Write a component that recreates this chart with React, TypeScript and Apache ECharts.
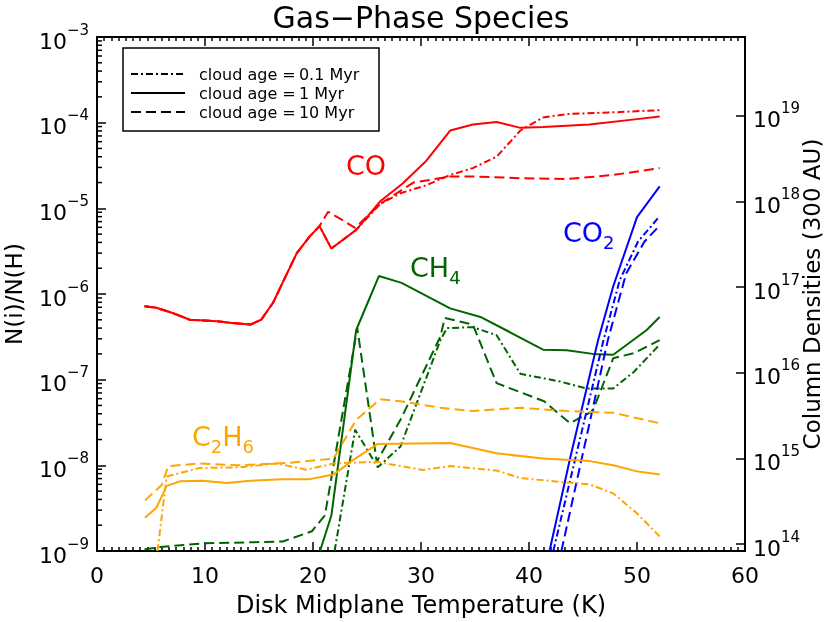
import React, { useEffect, useRef } from 'react';
import * as echarts from 'echarts';

const FONT = 'DejaVu Sans';

// ---------- data (temperature in K, abundance N(i)/N(H)) ----------
const coLowT = [4.4, 5.5, 7.0, 8.6, 10.0, 11.1, 12.5, 14.2, 15.2, 16.3, 17.6, 18.5, 19.7, 20.6];
const coLowV = [7.2e-7, 6.9e-7, 6.0e-7, 5.0e-7, 4.9e-7, 4.8e-7, 4.6e-7, 4.4e-7, 5.0e-7, 7.9e-7, 1.74e-6, 3.0e-6, 4.7e-6, 6.2e-6];

const coSolidT = [21.7, 24.0, 26.2, 28.3, 30.5, 32.7, 34.8, 37.0, 39.2, 41.3, 45.6, 50.0, 52.1];
const coSolidV = [3.4e-6, 5.6e-6, 1.2e-5, 1.95e-5, 3.6e-5, 8.1e-5, 9.5e-5, 1.02e-4, 8.7e-5, 8.9e-5, 9.5e-5, 1.1e-4, 1.18e-4];
const coDashDotT = [21.7, 24.0, 26.2, 28.1, 30.5, 32.7, 34.8, 37.0, 39.2, 41.3, 43.5, 47.8, 52.1];
const coDashDotV = [3.4e-6, 5.6e-6, 1.12e-5, 1.5e-5, 1.86e-5, 2.45e-5, 2.95e-5, 4.0e-5, 8.1e-5, 1.15e-4, 1.26e-4, 1.32e-4, 1.4e-4];
const coDashedT = [21.4, 22.8, 23.9, 26.2, 28.1, 29.3, 32.7, 34.8, 39.2, 43.5, 47.8, 52.1];
const coDashedV = [9.1e-6, 7.2e-6, 5.9e-6, 1.12e-5, 1.6e-5, 2.0e-5, 2.35e-5, 2.35e-5, 2.25e-5, 2.2e-5, 2.45e-5, 2.95e-5];

const ch4SolidT = [20.65, 21.7, 24.0, 26.1, 28.2, 32.7, 35.5, 38.2, 41.3, 43.5, 45.9, 47.8, 50.9, 52.1];
const ch4SolidV = [1.0e-9, 2.6e-9, 3.8e-7, 1.62e-6, 1.35e-6, 6.8e-7, 5.4e-7, 3.6e-7, 2.24e-7, 2.2e-7, 2.0e-7, 1.95e-7, 3.8e-7, 5.4e-7];
const ch4DashDotT = [22.0, 23.9, 26.0, 28.1, 31.8, 32.4, 34.8, 37.0, 39.2, 42.9, 45.3, 47.8, 49.7, 52.1];
const ch4DashDotV = [1.0e-9, 2.6e-8, 9.5e-9, 1.66e-8, 2.9e-7, 4.0e-7, 4.1e-7, 3.3e-7, 1.17e-7, 9.5e-8, 7.9e-8, 7.9e-8, 1.23e-7, 2.57e-7];
const ch4DashedT = [4.4, 6.1, 10.0, 17.2, 19.9, 21.1, 24.1, 25.9, 28.1, 31.8, 32.2, 34.8, 37.0, 41.4, 43.8, 45.9, 47.8, 49.7, 52.1];
const ch4DashedV = [1.05e-9, 1.12e-9, 1.23e-9, 1.29e-9, 1.7e-9, 2.6e-9, 4.0e-7, 1.1e-8, 3.4e-8, 3.2e-7, 5.25e-7, 4.4e-7, 9.1e-8, 5.6e-8, 3.1e-8, 4.3e-8, 1.78e-7, 2.04e-7, 2.9e-7];

const co2SolidT = [41.9, 43.8, 46.4, 47.8, 50.0, 52.1];
const co2SolidV = [1.0e-9, 1.2e-8, 2.9e-7, 1.23e-6, 7.9e-6, 1.8e-5];
const co2DashDotT = [42.25, 46.9, 48.4, 50.1, 52.1];
const co2DashDotV = [1.0e-9, 2.9e-7, 1.45e-6, 4.1e-6, 8.1e-6];
const co2DashedT = [43.0, 47.3, 49.0, 50.7, 52.1];
const co2DashedV = [1.0e-9, 2.9e-7, 1.74e-6, 4.1e-6, 6.3e-6];

const c2h6SolidT = [4.44, 5.5, 6.45, 7.7, 9.8, 12.0, 14.2, 17.2, 19.7, 21.9, 23.7, 26.0, 32.7, 37.0, 41.3, 45.6, 47.8, 50.0, 52.1];
const c2h6SolidV = [2.45e-9, 3.2e-9, 5.75e-9, 6.5e-9, 6.6e-9, 6.2e-9, 6.6e-9, 6.9e-9, 6.9e-9, 7.8e-9, 1.15e-8, 1.78e-8, 1.82e-8, 1.38e-8, 1.2e-8, 1.12e-8, 1.0e-8, 8.5e-9, 7.8e-9];
const c2h6DashedT = [4.44, 6.0, 6.6, 9.5, 13.2, 17.9, 21.9, 24.0, 26.2, 28.1, 31.8, 34.8, 39.2, 43.5, 47.8, 52.1];
const c2h6DashedV = [3.9e-9, 5.9e-9, 9.8e-9, 1.05e-8, 1.0e-8, 1.07e-8, 1.2e-8, 3.4e-8, 5.9e-8, 5.6e-8, 4.7e-8, 4.3e-8, 4.7e-8, 4.3e-8, 4.1e-8, 3.1e-8];
const c2h6DashDotT = [5.6, 6.45, 9.5, 13.2, 16.6, 19.4, 21.9, 25.9, 30.2, 32.7, 37.0, 39.2, 43.5, 45.6, 47.8, 50.0, 52.1];
const c2h6DashDotV = [1.0e-9, 7.4e-9, 9.3e-9, 9.5e-9, 1.05e-8, 8.9e-9, 1.05e-8, 1.1e-8, 8.8e-9, 9.8e-9, 8.7e-9, 7.1e-9, 6.3e-9, 6.0e-9, 4.7e-9, 2.75e-9, 1.48e-9];

// axis ranges
const xMin = 0;
const xMax = 60;
const xInterval = 10;
const yMin = 1e-9;
const yMax = 1e-3;
const colMin = Math.pow(10, 13.92);
const colMax = Math.pow(10, 19.92);

const legendLabels = ['cloud age =\u20090.1 Myr', 'cloud age =\u20091 Myr', 'cloud age =\u200910 Myr'];

const RED = '#ff0000';
const GREEN = '#006400';
const BLUE = '#0000ff';
const ORANGE = '#ffa500';
const DASHDOT = [7, 3, 2, 3];
const DASHED = [10, 5];

function zip(t: number[], v: number[]) {
  return t.map((x, i) => [x, v[i]]);
}

function mkLine(name: string, color: string, type: any, data: number[][]) {
  return {
    name,
    type: 'line',
    data,
    symbol: 'none',
    clip: true,
    silent: true,
    lineStyle: { color, width: 2, type },
    z: 3,
  };
}

function supLabel(v: number) {
  const e = Math.round(Math.log10(v));
  const s = e < 0 ? '\u2212' + -e : String(e);
  return `{b|10}{s|${s}}`;
}

const labelRich = {
  b: { fontSize: 22, fontFamily: FONT, color: '#000', lineHeight: 30, verticalAlign: 'bottom' },
  s: { fontSize: 15, fontFamily: FONT, color: '#000', lineHeight: 14, verticalAlign: 'top' },
};

export default function App() {
  const ref = useRef<HTMLDivElement>(null);
  useEffect(() => {
    const chart = echarts.init(ref.current!, null, { renderer: 'svg' });

    const minorVals: number[][] = [];
    for (let e = -9; e < -3; e++) {
      for (let m = 2; m <= 9; m++) minorVals.push([0, m * Math.pow(10, e)]);
    }

    const speciesText = (x: number, y: number, parts: string, color: string) => ({
      type: 'text',
      x,
      y,
      style: {
        text: parts,
        fill: color,
        font: `27px ${FONT}`,
        textAlign: 'left',
        textVerticalAlign: 'middle',
        rich: {
          m: { fontSize: 27, fontFamily: FONT, fill: color, lineHeight: 32, verticalAlign: 'top' },
          d: { fontSize: 18, fontFamily: FONT, fill: color, lineHeight: 14, verticalAlign: 'bottom' },
        },
      },
      z: 20,
    });

    const option: any = {
      animation: false,
      grid: { left: 97, right: 85, top: 37, bottom: 71, containLabel: false, outerBoundsMode: 'none' },
      xAxis: [
        {
          type: 'value',
          min: xMin,
          max: xMax,
          interval: xInterval,
          position: 'bottom',
          name: 'Disk Midplane Temperature (K)',
          nameLocation: 'middle',
          nameGap: 42,
          nameTextStyle: { fontSize: 24, fontFamily: FONT, color: '#000' },
          axisLine: { show: true, onZero: false, lineStyle: { color: '#000', width: 2 } },
          axisTick: { show: true, inside: true, length: 9, lineStyle: { color: '#000', width: 1.5 } },
          minorTick: { show: true, splitNumber: 15, length: 4, lineStyle: { color: '#000', width: 1.5 } },
          axisLabel: { fontSize: 22, fontFamily: FONT, color: '#000', margin: 13 },
          splitLine: { show: false },
        },
        {
          type: 'value',
          min: xMin,
          max: xMax,
          interval: xInterval,
          position: 'top',
          axisLine: { show: true, onZero: false, lineStyle: { color: '#000', width: 2 } },
          axisTick: { show: true, inside: true, length: 9, lineStyle: { color: '#000', width: 1.5 } },
          minorTick: { show: true, splitNumber: 15, length: 4, lineStyle: { color: '#000', width: 1.5 } },
          axisLabel: { show: false },
          splitLine: { show: false },
        },
      ],
      yAxis: [
        {
          type: 'log',
          logBase: 10,
          min: yMin,
          max: yMax,
          position: 'left',
          name: 'N(i)/N(H)',
          nameLocation: 'middle',
          nameGap: 72,
          nameRotate: 90,
          nameTextStyle: { fontSize: 23, fontFamily: FONT, color: '#000' },
          axisLine: { show: true, onZero: false, lineStyle: { color: '#000', width: 2 } },
          axisTick: { show: true, inside: true, length: 9, lineStyle: { color: '#000', width: 1.5 } },
          axisLabel: { formatter: supLabel, rich: labelRich, margin: 8 },
          splitLine: { show: false },
        },
        {
          type: 'log',
          logBase: 10,
          min: colMin,
          max: colMax,
          position: 'right',
          alignTicks: false,
          name: 'Column Densities (300 AU)',
          nameLocation: 'middle',
          nameGap: 55,
          nameRotate: 90,
          nameMoveOverlap: false,
          nameTextStyle: { fontSize: 23, fontFamily: FONT, color: '#000' },
          axisLine: { show: true, onZero: false, lineStyle: { color: '#000', width: 2 } },
          axisTick: { show: true, inside: true, length: 9, lineStyle: { color: '#000', width: 1.5 } },
          axisLabel: { formatter: supLabel, rich: labelRich, margin: 8, showMinLabel: false, showMaxLabel: false },
          splitLine: { show: false },
        },
      ],
      graphic: [
        {
          type: 'text',
          x: 421,
          y: 17,
          style: { text: 'Gas\u2212Phase Species', font: `30px ${FONT}`, fill: '#000', textAlign: 'center', textVerticalAlign: 'middle' },
        },
        {
          type: 'rect',
          shape: { x: 123, y: 48, width: 256, height: 83 },
          style: { fill: '#fff', stroke: '#000', lineWidth: 1.5 },
          z: 30,
        },
        ...[DASHDOT, null, DASHED].map((d, i) => ({
          type: 'line',
          shape: { x1: 131, y1: 74 + i * 19, x2: 185, y2: 74 + i * 19 },
          style: { stroke: '#000', lineWidth: 2, lineDash: d || undefined },
          z: 31,
        })),
        ...legendLabels.map((t, i) => ({
          type: 'text',
          x: 199,
          y: 74 + i * 19,
          style: { text: t, font: `16px ${FONT}`, fill: '#000', textAlign: 'left', textVerticalAlign: 'middle' },
          z: 31,
        })),
        speciesText(346, 168, '{m|CO}', RED),
        speciesText(410, 270, '{m|CH}{d|4}', GREEN),
        speciesText(563, 235, '{m|CO}{d|2}', BLUE),
        speciesText(192, 439, '{m|C}{d|2}{m|H}{d|6}', ORANGE),
      ],
      series: [
        mkLine('CO 0.1', RED, DASHDOT, zip(coLowT.concat(coDashDotT), coLowV.concat(coDashDotV))),
        mkLine('CO 1', RED, 'solid', zip(coLowT.concat(coSolidT), coLowV.concat(coSolidV))),
        mkLine('CO 10', RED, DASHED, zip(coLowT.concat(coDashedT), coLowV.concat(coDashedV))),
        mkLine('CH4 0.1', GREEN, DASHDOT, zip(ch4DashDotT, ch4DashDotV)),
        mkLine('CH4 1', GREEN, 'solid', zip(ch4SolidT, ch4SolidV)),
        mkLine('CH4 10', GREEN, DASHED, zip(ch4DashedT, ch4DashedV)),
        mkLine('CO2 0.1', BLUE, DASHDOT, zip(co2DashDotT, co2DashDotV)),
        mkLine('CO2 1', BLUE, 'solid', zip(co2SolidT, co2SolidV)),
        mkLine('CO2 10', BLUE, DASHED, zip(co2DashedT, co2DashedV)),
        mkLine('C2H6 0.1', ORANGE, DASHDOT, zip(c2h6DashDotT, c2h6DashDotV)),
        mkLine('C2H6 1', ORANGE, 'solid', zip(c2h6SolidT, c2h6SolidV)),
        mkLine('C2H6 10', ORANGE, DASHED, zip(c2h6DashedT, c2h6DashedV)),
        {
          type: 'custom',
          xAxisIndex: 0,
          yAxisIndex: 0,
          silent: true,
          clip: false,
          z: 10,
          data: minorVals,
          renderItem: (_p: any, api: any) => {
            const p = api.coord([0, api.value(1)]);
            return {
              type: 'line',
              shape: { x1: p[0], y1: p[1], x2: p[0] + 5, y2: p[1] },
              style: { stroke: '#000', lineWidth: 1.5 },
            };
          },
        },
      ],
    };
    chart.setOption(option);
    return () => chart.dispose();
  }, []);
  return <div ref={ref} style={{ position: 'fixed', left: 0, top: 0, width: 830, height: 622 }} />;
}
